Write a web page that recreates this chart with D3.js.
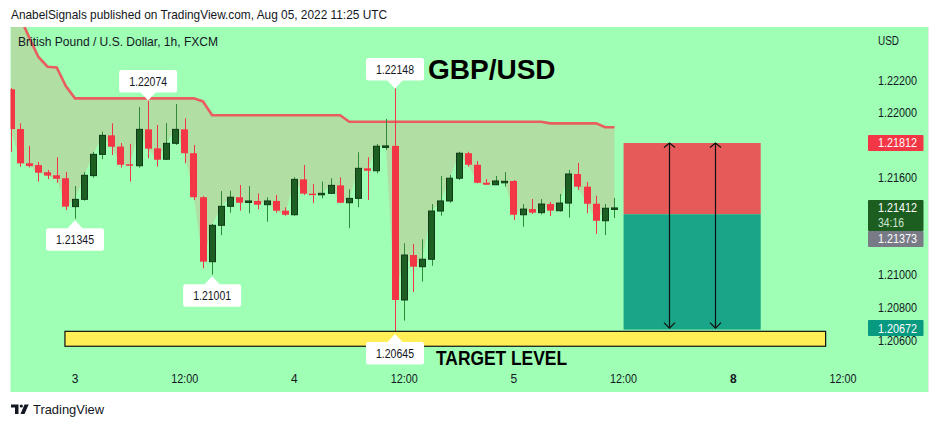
<!DOCTYPE html>
<html><head><meta charset="utf-8">
<script src="https://cdn.jsdelivr.net/npm/d3@7"></script>
<style>html,body{margin:0;padding:0;background:#fff;} svg{display:block;}</style>
</head><body>
<script>
// ---- data (GBP/USD 1h, FXCM) ----
const open  = [1.22143,1.21898,1.21687,1.21676,1.21632,1.21613,1.21595,1.21420,1.21465,1.21611,1.21742,1.21859,1.21790,1.21681,1.21672,1.21896,1.21779,1.21712,1.21810,1.21896,1.21749,1.21478,1.21081,1.21305,1.21422,1.21478,1.21449,1.21455,1.21432,1.21455,1.21395,1.21370,1.21588,1.21500,1.21494,1.21502,1.21551,1.21444,1.21471,1.21656,1.21641,1.21787,1.21794,1.20845,1.21122,1.21050,1.21096,1.21393,1.21455,1.21595,1.21749,1.21678,1.21567,1.21555,1.21572,1.21578,1.21370,1.21405,1.21383,1.21436,1.21395,1.21442,1.21621,1.21543,1.21438,1.21333,1.21410];
const high  = [1.22151,1.21933,1.21794,1.21695,1.21646,1.21724,1.21633,1.21547,1.21633,1.21757,1.21882,1.21933,1.21812,1.21806,1.22034,1.22074,1.21923,1.21935,1.22052,1.21964,1.21800,1.21486,1.21313,1.21516,1.21518,1.21553,1.21547,1.21502,1.21478,1.21492,1.21416,1.21601,1.21676,1.21559,1.21574,1.21595,1.21601,1.21527,1.21755,1.21724,1.21806,1.21960,1.22148,1.21194,1.21190,1.21219,1.21436,1.21609,1.21615,1.21758,1.21758,1.21701,1.21590,1.21609,1.21633,1.21584,1.21436,1.21467,1.21467,1.21449,1.21498,1.21646,1.21689,1.21572,1.21487,1.21436,1.21473];
const low   = [1.21758,1.21666,1.21662,1.21574,1.21590,1.21567,1.21399,1.21345,1.21457,1.21598,1.21713,1.21738,1.21660,1.21574,1.21660,1.21718,1.21666,1.21707,1.21800,1.21687,1.21461,1.21040,1.21001,1.21244,1.21383,1.21395,1.21379,1.21404,1.21327,1.21383,1.21364,1.21365,1.21492,1.21441,1.21471,1.21498,1.21441,1.21287,1.21416,1.21461,1.21625,1.21769,1.20645,1.20718,1.20894,1.20958,1.21056,1.21364,1.21444,1.21584,1.21666,1.21564,1.21553,1.21553,1.21543,1.21338,1.21296,1.21375,1.21372,1.21362,1.21389,1.21352,1.21523,1.21379,1.21252,1.21245,1.21350];
const close = [1.21898,1.21687,1.21670,1.21629,1.21611,1.21592,1.21420,1.21465,1.21613,1.21742,1.21859,1.21789,1.21678,1.21672,1.21896,1.21777,1.21709,1.21810,1.21896,1.21749,1.21478,1.21081,1.21305,1.21422,1.21478,1.21444,1.21455,1.21432,1.21455,1.21395,1.21370,1.21588,1.21500,1.21494,1.21502,1.21551,1.21444,1.21471,1.21656,1.21641,1.21792,1.21794,1.20845,1.21122,1.21050,1.21096,1.21393,1.21455,1.21595,1.21749,1.21678,1.21567,1.21555,1.21578,1.21576,1.21370,1.21405,1.21383,1.21436,1.21395,1.21442,1.21621,1.21543,1.21438,1.21333,1.21410,1.21412];
const band  = [1.22711,1.22587,1.22461,1.22342,1.22282,1.22277,1.22163,
  1.22087,1.22087,1.22087,1.22087,1.22087,1.22087,1.22087,1.22087,1.22087,1.22087,1.22087,1.22087,1.22087,1.22087,
  1.22068,
  1.21983,1.21983,1.21983,1.21983,1.21983,1.21983,1.21983,1.21983,1.21983,1.21983,1.21983,1.21983,1.21983,1.21983,1.21983,
  1.21943,1.21943,1.21943,1.21943,1.21943,1.21943,1.21943,1.21943,1.21943,1.21943,1.21943,1.21943,1.21943,1.21943,1.21943,1.21943,1.21943,1.21943,1.21943,1.21943,1.21943,1.21943,
  1.21933,1.21933,1.21933,1.21933,1.21933,1.21933,
  1.21909,1.21909];

const timeTickPos    = [7, 19, 31, 43, 55, 67, 79, 91];   // hour index (Aug 3 00:00 = 7)
const timeTickLabels = ["3","12:00","4","12:00","5","12:00","8","12:00"];
const timeTickBold   = [false,false,false,false,false,false,true,false];
const priceTicks     = [1.222,1.220,1.218,1.216,1.214,1.212,1.210,1.208,1.206];

const callouts = [
  {i:15, price:1.22074, side:"above"},
  {i:7,  price:1.21345, side:"below"},
  {i:22, price:1.21001, side:"below"},
  {i:42, price:1.22148, side:"above"},
  {i:42, price:1.20645, side:"below"}
];
const position   = {start:67, end:82, entry:1.21373, stop:1.21812, target:1.20672};
const arrowsAt   = [72, 77];
const targetZone = {start:5.9, end:89.1, top:1.20652, bottom:1.20560};
const priceTags  = [
  {price:1.21812, text:"1.21812", color:"#f23645"},
  {price:1.21412, text:"1.21412", sub:"34:16", color:"#1b5e20"},
  {price:1.21373, text:"1.21373", color:"#787b86"},
  {price:1.20672, text:"1.20672", color:"#089981"}
];

// ---- layout ----
const W = 938, H = 427;
const panel = {x0:10.5, y0:27, x1:928, y1:392};
const plotRight = 868;
const BG = "#9effb5", TXT = "#131722", FONT = "'Liberation Sans', Arial, sans-serif";

const x = d3.scaleLinear().domain([7, 91]).range([75, 843]);
const y = d3.scaleLinear().domain([1.222, 1.208]).range([80, 307.3]);

const svg = d3.select("body").append("svg").attr("width", W).attr("height", H)
  .style("font-family", FONT);

svg.append("rect").attr("width", W).attr("height", H).attr("fill", "#fff");

// header
svg.append("text").attr("x", 11).attr("y", 19).attr("font-size", 13).attr("fill", TXT)
  .attr("textLength", 376).attr("lengthAdjust", "spacingAndGlyphs")
  .text("AnabelSignals published on TradingView.com, Aug 05, 2022 11:25 UTC");

// panel
svg.append("rect").attr("x", panel.x0).attr("y", panel.y0)
  .attr("width", panel.x1 - panel.x0).attr("height", panel.y1 - panel.y0).attr("fill", BG);
svg.append("line").attr("x1", panel.x1 + 0.5).attr("x2", panel.x1 + 0.5)
  .attr("y1", panel.y0).attr("y2", panel.y1).attr("stroke", "#e6ebe6").attr("stroke-width", 1);

svg.append("clipPath").attr("id", "plotclip").append("rect")
  .attr("x", panel.x0).attr("y", panel.y0).attr("width", plotRight - panel.x0).attr("height", 340);

const plot = svg.append("g").attr("clip-path", "url(#plotclip)");
const idx = d3.range(close.length);

// fill between band and close
plot.append("path").datum(idx)
  .attr("d", d3.area().x(i => x(i)).y0(i => y(close[i])).y1(i => y(band[i])))
  .attr("fill", "#b1dea2");

// band line
plot.append("path").datum(idx)
  .attr("d", d3.line().x(i => x(i)).y(i => y(band[i])))
  .attr("fill", "none").attr("stroke", "#f04f55").attr("stroke-width", 2.6)
  .attr("stroke-opacity", 0.9);

// position tool
const px0 = x(position.start), px1 = x(position.end);
plot.append("rect").attr("x", px0).attr("width", px1 - px0)
  .attr("y", y(position.stop)).attr("height", y(position.entry) - y(position.stop))
  .attr("fill", "#e65a5a");
plot.append("rect").attr("x", px0).attr("width", px1 - px0)
  .attr("y", y(position.entry)).attr("height", y(position.target) - y(position.entry) + 1.5)
  .attr("fill", "#19a587");
arrowsAt.forEach(a => {
  const ax = Math.round(x(a)) + 0.5, ty = y(position.stop), by = y(position.target);
  const g = plot.append("g").attr("stroke", "#111").attr("stroke-width", 1.2).attr("fill", "none");
  g.append("line").attr("x1", ax).attr("x2", ax).attr("y1", ty).attr("y2", by);
  g.append("path").attr("d", `M${ax-5.5},${ty+4.5}L${ax},${ty}L${ax+5.5},${ty+4.5}`);
  g.append("path").attr("d", `M${ax-5.5},${by-5.5}L${ax},${by}L${ax+5.5},${by-5.5}`);
});

// candles
idx.forEach(i => {
  const up = close[i] >= open[i];
  const cx = Math.round(x(i)) + 0.5;
  plot.append("line").attr("x1", cx).attr("x2", cx)
    .attr("y1", y(high[i])).attr("y2", y(low[i]))
    .attr("stroke", up ? "#2f8a38" : "#f23645").attr("stroke-width", 1);
  const top = y(Math.max(open[i], close[i])), bot = y(Math.min(open[i], close[i]));
  const left = Math.round(x(i) - 3.5);
  const h = Math.max(1.5, bot - top);
  if (up) {
    plot.append("rect").attr("x", left + 0.5).attr("y", top).attr("width", 6).attr("height", h)
      .attr("fill", "#1d5e22").attr("stroke", "#0e3a16").attr("stroke-width", 1);
  } else {
    plot.append("rect").attr("x", left).attr("y", top).attr("width", 7).attr("height", h)
      .attr("fill", "#f23645");
  }
});

// target zone
plot.append("rect").attr("x", x(targetZone.start)).attr("width", x(targetZone.end) - x(targetZone.start))
  .attr("y", y(targetZone.top)).attr("height", y(targetZone.bottom) - y(targetZone.top))
  .attr("fill", "#ffee55").attr("stroke", "#111").attr("stroke-width", 1.2);

// callouts
callouts.forEach(c => {
  const cx = x(c.i), tip = y(c.price), bw = 58, bh = 22.5;
  const g = plot.append("g");
  let by, tri;
  if (c.side === "above") {
    by = tip - 8 - bh;
    tri = `M${cx-8},${tip-8.5}L${cx},${tip}L${cx+8},${tip-8.5}Z`;
  } else {
    by = tip + 9.5;
    tri = `M${cx-8},${tip+10}L${cx},${tip+1.5}L${cx+8},${tip+10}Z`;
  }
  g.append("rect").attr("x", cx - bw/2).attr("y", by).attr("width", bw).attr("height", bh)
    .attr("rx", 2.5).attr("fill", "#fff");
  g.append("path").attr("d", tri).attr("fill", "#fff");
  g.append("text").attr("x", cx).attr("y", by + bh/2 + 4.5).attr("text-anchor", "middle")
    .attr("font-size", 12.5).attr("fill", TXT)
    .attr("textLength", 38).attr("lengthAdjust", "spacingAndGlyphs")
    .text(c.price.toFixed(5));
});

// titles
svg.append("text").attr("x", 18).attr("y", 46).attr("font-size", 13).attr("fill", TXT)
  .attr("textLength", 200).attr("lengthAdjust", "spacingAndGlyphs")
  .text("British Pound / U.S. Dollar, 1h, FXCM");
svg.append("text").attr("x", 428).attr("y", 79.3).attr("font-size", 28).attr("font-weight", "bold")
  .attr("fill", "#000").text("GBP/USD");
svg.append("text").attr("x", 436).attr("y", 364.5).attr("font-size", 21).attr("font-weight", "bold")
  .attr("fill", "#000").attr("textLength", 131).attr("lengthAdjust", "spacingAndGlyphs")
  .text("TARGET LEVEL");

// price tags layout (stacked to avoid overlap)
let prevBottom = -Infinity;
const tagBoxes = priceTags.map(t => {
  const h = t.sub ? 31 : 16;
  const top = Math.max(y(t.price) - 8, prevBottom);
  prevBottom = top + h;
  return {t, top, h};
});

// price axis ticks (hidden where a tag covers them, as on TradingView)
const yAxis = svg.append("g");
priceTicks.forEach(p => {
  const ty = y(p);
  if (tagBoxes.some(b => ty > b.top - 1 && ty < b.top + b.h + 1)) return;
  yAxis.append("text").attr("x", 878).attr("y", ty + (p < 1.207 ? 5.5 : 4.5)).attr("font-size", 12.5).attr("fill", TXT)
    .attr("textLength", 39).attr("lengthAdjust", "spacingAndGlyphs").text(p.toFixed(5));
});
yAxis.append("text").attr("x", 878).attr("y", 45).attr("font-size", 12.5).attr("fill", TXT)
  .attr("textLength", 21).attr("lengthAdjust", "spacingAndGlyphs").text("USD");

tagBoxes.forEach(({t, top, h}) => {
  yAxis.append("rect").attr("x", 868).attr("y", top).attr("width", 55.5).attr("height", h)
    .attr("rx", 1).attr("fill", t.color);
  yAxis.append("text").attr("x", 878).attr("y", top + 12.5).attr("font-size", 12.5).attr("fill", "#fff")
    .attr("textLength", 39).attr("lengthAdjust", "spacingAndGlyphs").text(t.text);
  if (t.sub) {
    yAxis.append("text").attr("x", 878).attr("y", top + 27).attr("font-size", 12.5)
      .attr("fill", "#cfe3cf").attr("textLength", 26).attr("lengthAdjust", "spacingAndGlyphs").text(t.sub);
  }
});

// time axis
const xAxis = svg.append("g");
timeTickPos.forEach((p, k) => {
  const lab = timeTickLabels[k];
  const tx = xAxis.append("text").attr("x", x(p)).attr("y", 382.5).attr("text-anchor", "middle")
    .attr("font-size", 12).attr("fill", TXT)
    .attr("font-weight", timeTickBold[k] ? "bold" : "normal").text(lab);
  if (lab.length > 2) tx.attr("textLength", 27).attr("lengthAdjust", "spacingAndGlyphs");
});

// footer logo
const logo = svg.append("g").attr("fill", TXT);
logo.append("path").attr("d", "M11,404.5h7.5v9.5h-3.5v-6.5h-4z");
logo.append("circle").attr("cx", 21.3).attr("cy", 406).attr("r", 1.6);
logo.append("path").attr("d", "M24.5,404.5h4.2l-4.2,9.5h-4z");
svg.append("text").attr("x", 33).attr("y", 413.5).attr("font-size", 13).attr("fill", TXT)
  .attr("textLength", 71).attr("lengthAdjust", "spacingAndGlyphs").text("TradingView");
</script>
</body></html>
